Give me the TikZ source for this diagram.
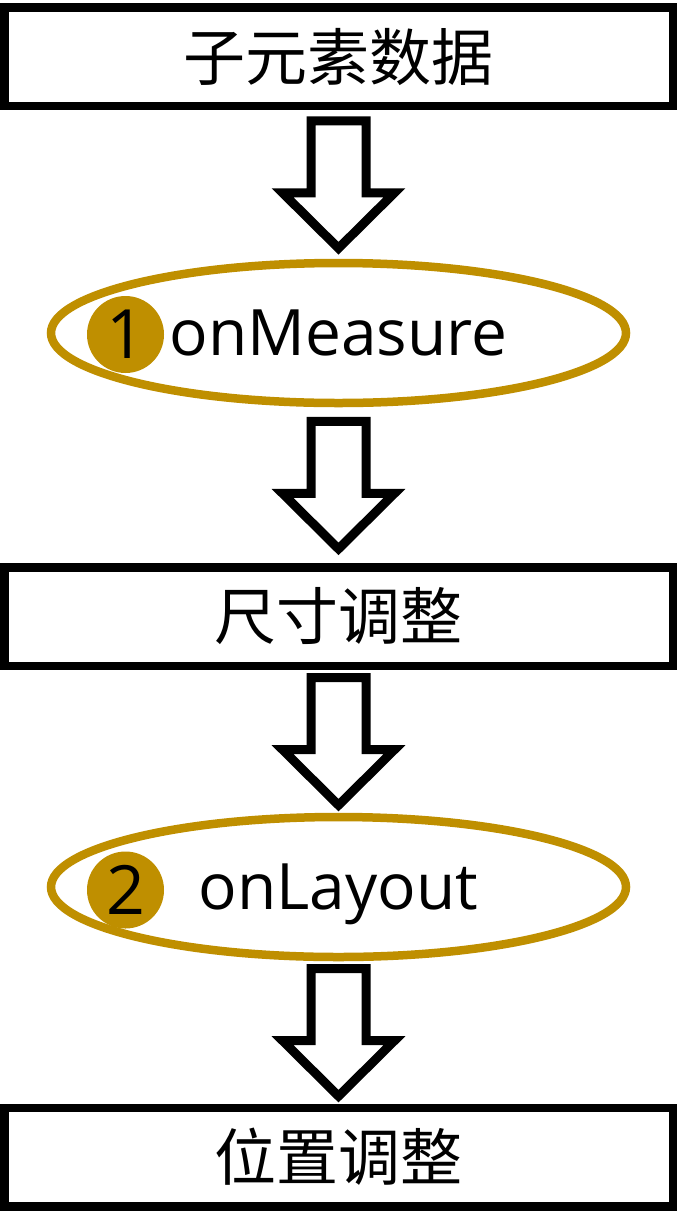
\documentclass[tikz,border=0pt]{standalone}
\usepackage{fontspec}
\setmainfont{Open Sans}
\newfontfamily\cjk{Noto Sans CJK SC}
\usetikzlibrary{shapes.geometric,calc}
\definecolor{gold}{HTML}{BF8F00}

\begin{document}
\begin{tikzpicture}[x=1pt,y=-1pt,
					box/.style={rectangle,draw=black,line width=8.5pt,minimum width=668.5pt,minimum height=98.5pt,inner sep=0pt,outer sep=0pt,font=\cjk\fontsize{62}{62}\selectfont},
					callback/.style={ellipse,draw=gold,line width=8.5pt,minimum width=575pt,minimum height=140pt,inner sep=0pt,outer sep=0pt,text depth=0pt,font=\fontsize{64}{64}\selectfont},
					num/.style={circle,fill=gold,minimum size=77pt,inner sep=0pt,outer sep=0pt,text depth=0pt,font=\fontsize{68}{68}\selectfont},
					hollow/.style={draw=black,fill=white,line width=9pt,line join=miter}]
					\useasboundingbox (0,0) rectangle (677,1232);
					\node[box] (data) at (338.5,56.75) {子元素数据};
					\node[callback] (measure) at (338.5,333) {onMeasure};
					\node[num] (n1) at (125.5,334.5) {1};
					\node[box] (resize) at (338.5,616.5) {尺寸调整};
					\node[callback] (layout) at (338.5,887) {onLayout};
					\node[num] (n2) at (125.5,890) {2};
					\node[box] (place) at (338.5,1157) {位置调整};
					\foreach \a/\b in {data/measure,measure/resize,resize/layout,layout/place}
						\draw[hollow,shift={($(\a.south)!0.5!(\b.north)$)}] (-27.5,-63.75) -- (27.5,-63.75) -- (27.5,8.25) -- (56,8.25) -- (0,63.75) -- (-56,8.25) -- (-27.5,8.25) -- cycle;
\end{tikzpicture}
\end{document}
